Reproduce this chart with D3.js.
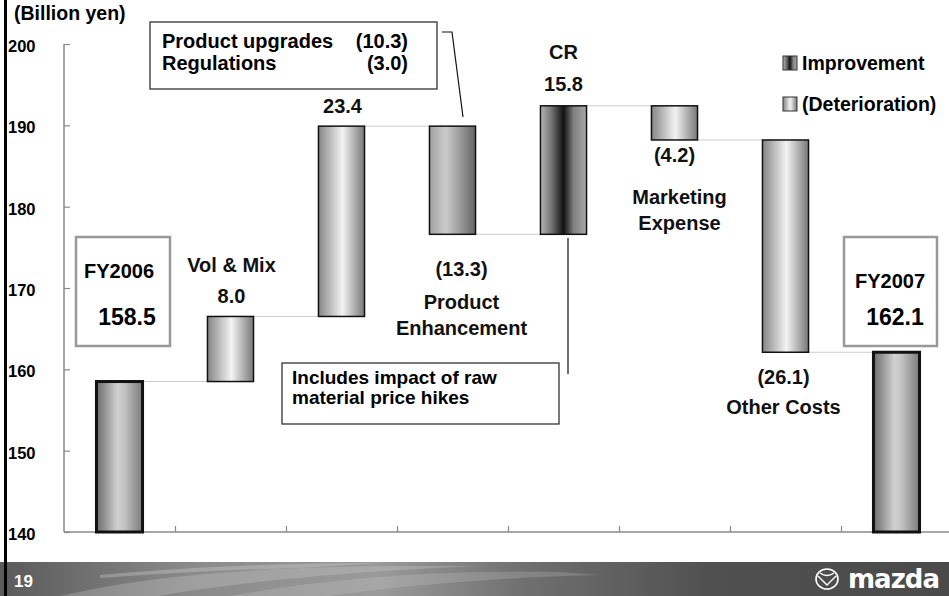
<!DOCTYPE html>
<html><head><meta charset="utf-8">
<script src="https://cdn.jsdelivr.net/npm/d3@7"></script>
<style>
html,body{margin:0;padding:0;background:#fff;}
svg{display:block;font-family:"Liberation Sans",Arial,sans-serif;font-weight:bold;}
</style></head>
<body>
<svg id="chart" width="949" height="596"></svg>
<script>
// ---- data ----
const categories = ["FY2006","Vol & Mix","Product Upgrades","Product Enhancement","CR","Marketing Expense","Other Costs","FY2007"];
const values = [158.5, 8.0, 23.4, -13.3, 15.8, -4.2, -26.1, 162.1];
const kinds = ["total","delta","delta","delta","delta","delta","delta","total"];
const valueLabels = ["158.5","8.0","23.4","(13.3)","15.8","(4.2)","(26.1)","162.1"];
const nameLabels = [["FY2006"],["Vol & Mix"],[],["Product","Enhancement"],["CR"],["Marketing","Expense"],["Other Costs"],["FY2007"]];
const fillKeys = ["gTotal","gLight","gLight","gMid","gDark","gLight","gLight","gTotal"];
const yTicks = [140,150,160,170,180,190,200];
const yDomain = [140,200];
const legendLabels = ["Improvement","(Deterioration)"];
const unitLabel = "(Billion yen)";
const noteTop = [["Product upgrades","(10.3)"],["Regulations","(3.0)"]];
const noteBottom = ["Includes impact of raw","material price hikes"];
const pageNumber = "19";

// ---- compute waterfall ----
let run = 0;
const bars = categories.map((c,i)=>{
  let y0,y1;
  if(kinds[i]==="total"){ y0=yDomain[0]; y1=values[i]; run=values[i]; }
  else { y0=run; y1=run+values[i]; run=y1; }
  return {c, i, y0, y1, lo:Math.min(y0,y1), hi:Math.max(y0,y1), v:values[i], kind:kinds[i]};
});

const svg = d3.select("#chart");
const W=949,H=596;
const defs = svg.append("defs");
function grad(id, stops){
  const g = defs.append("linearGradient").attr("id",id).attr("x1","0%").attr("x2","100%").attr("y1","0%").attr("y2","0%");
  stops.forEach(s=>g.append("stop").attr("offset",s[0]).attr("stop-color",s[1]));
}
grad("gTotal",[["0%","#6a6a6a"],["45%","#d0d0d0"],["60%","#c4c4c4"],["100%","#7a7a7a"]]);
grad("gLight",[["0%","#858585"],["52%","#f3f3f3"],["100%","#777"]]);
grad("gMid",[["0%","#a0a0a0"],["35%","#cccccc"],["100%","#656565"]]);
grad("gDark",[["0%","#b5b5b5"],["22%","#7a7a7a"],["50%","#111"],["72%","#808080"],["100%","#a8a8a8"]]);
const bannerG = defs.append("linearGradient").attr("id","gBanner").attr("x1","0%").attr("x2","100%");
[["0%","#5a5a5a"],["20%","#8a8a8a"],["40%","#9a9a9a"],["55%","#707070"],["75%","#505050"],["100%","#4a4a4a"]].forEach(s=>bannerG.append("stop").attr("offset",s[0]).attr("stop-color",s[1]));

// scales
const y = d3.scaleLinear().domain(yDomain).range([532,44]);
const x = d3.scaleBand().domain(categories).range([64,952]).paddingInner(0.585).paddingOuter(0.2925);
const xb = d3.scaleLinear().domain([0,categories.length]).range([64,952]);

// axes
const yAx = svg.append("g").attr("transform","translate(64,0)")
  .call(d3.axisLeft(y).tickValues(yTicks).tickSize(-6).tickFormat(d3.format("d")));
yAx.select(".domain").attr("stroke","#8a8a8a").attr("stroke-width",1.5).attr("d","M0,"+y(200)+"V"+y(140));
yAx.selectAll(".tick line").attr("stroke","#8a8a8a").attr("stroke-width",1.2);
yAx.selectAll(".tick text").attr("x",-56).attr("text-anchor","start").attr("dy","0.45em")
  .attr("font-size",16.5).attr("font-weight","bold").attr("fill","#000").attr("font-family","Liberation Sans, Arial, sans-serif");

const xAx = svg.append("g").attr("transform","translate(0,"+y(140)+")")
  .call(d3.axisBottom(xb).tickValues(d3.range(1,categories.length)).tickSize(-6).tickFormat(""));
xAx.select(".domain").attr("stroke","#8a8a8a").attr("stroke-width",1.5).attr("d","M64,0H949");
xAx.selectAll(".tick line").attr("stroke","#8a8a8a").attr("stroke-width",1.2);

// connectors
for(let i=0;i<bars.length-1;i++){
  const lvl = bars[i].y1;
  svg.append("line")
    .attr("x1",x(bars[i].c)+x.bandwidth()).attr("x2",x(bars[i+1].c))
    .attr("y1",y(lvl)).attr("y2",y(lvl))
    .attr("stroke","#9a9a9a").attr("stroke-width",1).attr("stroke-dasharray","1,1");
}

// bars
svg.append("g").selectAll("rect").data(bars).join("rect")
  .attr("x",d=>x(d.c)).attr("width",x.bandwidth())
  .attr("y",d=>y(d.hi)).attr("height",d=>y(d.lo)-y(d.hi))
  .attr("fill",(d,i)=>"url(#"+fillKeys[i]+")")
  .attr("stroke","#111").attr("stroke-width",d=>d.kind==="total"?3:1.5);

// labels for delta bars
const T = svg.append("g").attr("font-size",20).attr("text-anchor","middle").attr("fill","#111");
const cx = i => x(categories[i]) + x.bandwidth()/2;
const lab = {
  1:{dx:1, vdx:1, val:-13, names:-44},
  2:{dx:1, vdx:1, val:-13, names:0},
  3:{dx:9, vdx:9, val:42, names:75, below:true},
  4:{dx:0, vdx:0, val:-15, names:-47},
  5:{dx:5, vdx:0, val:22, names:64, below:true},
  6:{dx:-2, vdx:-2, val:32, names:62, below:true}
};
Object.keys(lab).forEach(k=>{
  const i=+k, L=lab[k], b=bars[i];
  const baseY = L.below ? y(b.lo) : y(b.hi);
  T.append("text").attr("x",cx(i)+L.vdx).attr("y",baseY+L.val).text(valueLabels[i]);
  nameLabels[i].forEach((n,j)=>{
    T.append("text").attr("x",cx(i)+L.dx).attr("y",baseY+L.names+j*26).text(n);
  });
});

// FY boxes
function fyBox(i,bx,bw,nameX,nameY,valX){
  svg.append("rect").attr("x",bx).attr("y",237).attr("width",bw).attr("height",109)
    .attr("fill","#fff").attr("stroke","#999").attr("stroke-width",2.5);
  svg.append("text").attr("x",nameX).attr("y",nameY).attr("text-anchor","middle").attr("font-size",20).text(nameLabels[i][0]);
  svg.append("text").attr("x",valX).attr("y",325).attr("text-anchor","middle").attr("font-size",23).text(valueLabels[i]);
}
fyBox(0,76,94,119,278,127);
fyBox(7,844,93,890,288,895);

// unit label
svg.append("text").attr("x",14).attr("y",20).attr("font-size",19.5).text(unitLabel);

// top note box
svg.append("rect").attr("x",150).attr("y",22).attr("width",287).attr("height",67).attr("fill","#fff").attr("stroke","#333").attr("stroke-width",1.3);
noteTop.forEach((r,j)=>{
  svg.append("text").attr("x",162).attr("y",48+j*22).attr("font-size",20).text(r[0]);
  svg.append("text").attr("x",408).attr("y",48+j*22).attr("font-size",20).attr("text-anchor","end").text(r[1]);
});
svg.append("path").attr("d","M442,32H452L463,117").attr("fill","none").attr("stroke","#111").attr("stroke-width",1.2);

// bottom note box
svg.append("rect").attr("x",282).attr("y",363).attr("width",277).attr("height",61).attr("fill","#fff").attr("stroke","#333").attr("stroke-width",1.3);
noteBottom.forEach((t,j)=>{
  svg.append("text").attr("x",292).attr("y",384+j*20).attr("font-size",19).text(t);
});
svg.append("line").attr("x1",568).attr("x2",568).attr("y1",238).attr("y2",374).attr("stroke","#111").attr("stroke-width",1.2);

// legend
const legFills=["gDark","gLight"];
legendLabels.forEach((t,j)=>{
  const ly = 56 + j*41;
  svg.append("rect").attr("x",783).attr("y",ly).attr("width",14).attr("height",14)
    .attr("fill","url(#"+legFills[j]+")").attr("stroke","#333").attr("stroke-width",1);
  svg.append("text").attr("x",802).attr("y",ly+14).attr("font-size",19.5).text(t);
});

// bottom banner
svg.append("rect").attr("x",0).attr("y",562).attr("width",W).attr("height",34).attr("fill","url(#gBanner)");
[["M60,596 C150,575 260,566 420,566 L480,566 C330,572 220,585 160,596Z",0.25],
 ["M230,596 C320,580 420,570 560,572 L600,575 C480,578 380,588 330,596Z",0.2],
 ["M100,575 C200,566 300,563 380,563 L300,568 C220,570 160,574 100,578Z",0.3]].forEach(p=>{
  svg.append("path").attr("d",p[0]).attr("fill","#ddd").attr("opacity",p[1]);
});
svg.append("text").attr("x",14).attr("y",587).attr("font-size",17).attr("fill","#fff").text(pageNumber);
// mazda logo
svg.append("ellipse").attr("cx",827).attr("cy",579).attr("rx",11).attr("ry",10).attr("fill","none").attr("stroke","#fff").attr("stroke-width",1.6);
svg.append("path").attr("d","M818,576 L827,585 L836,576 M820,573 Q827,578 834,573").attr("fill","none").attr("stroke","#fff").attr("stroke-width",1.4);
svg.append("text").attr("x",848).attr("y",588).attr("font-size",26).attr("fill","#fff")
  .attr("font-family","DejaVu Sans, sans-serif").attr("letter-spacing",-1).text("mazda");

// left border
svg.append("rect").attr("x",4).attr("y",0).attr("width",3).attr("height",H).attr("fill","#000");
</script>
</body></html>
